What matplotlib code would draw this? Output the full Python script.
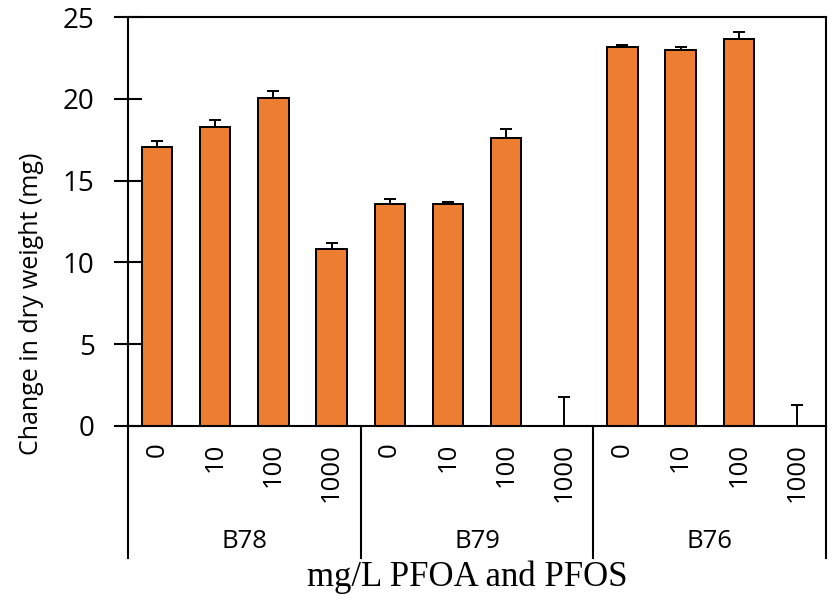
import matplotlib
matplotlib.use("Agg")
from matplotlib import pyplot as plt
import matplotlib.transforms as mtransforms
import numpy as np

# data
groups = ["B78", "B79", "B76"]
doses = ["0", "10", "100", "1000"]
dry_weight = [17.05, 18.3, 20.05, 10.8,
              13.6, 13.55, 17.6, 0.0,
              23.15, 23.0, 23.65, 0.0]
err_up = [0.4, 0.4, 0.45, 0.4,
          0.3, 0.15, 0.55, 1.75,
          0.15, 0.15, 0.45, 1.3]

bar_color = "#ED7D31"
sans = ["Open Sans", "DejaVu Sans"]

fig = plt.figure(figsize=(8.33, 6.0), dpi=100)
ax = fig.add_axes([128 / 833, 1 - 426 / 600, 698 / 833, 409 / 600])

x = np.arange(len(dry_weight))
ax.bar(x, dry_weight, width=0.52, color=bar_color, edgecolor="black", linewidth=1.4, zorder=2)
ax.errorbar(x, dry_weight, yerr=[np.zeros(len(err_up)), err_up], fmt="none",
            ecolor="black", elinewidth=1.4, capsize=4, capthick=1.4, zorder=3)

ax.set_xlim(-0.5, len(dry_weight) - 0.5)
ax.set_ylim(0, 25)
ax.set_yticks([0, 5, 10, 15, 20, 25])

ax.set_xticks(x)
ax.set_xticklabels(doses * len(groups), rotation=90, fontsize=18.5, family=sans)
ax.tick_params(axis="x", length=0, pad=12)
ax.tick_params(axis="y", direction="inout", length=20, width=1.5, pad=14, labelsize=20)
for lab in ax.get_yticklabels():
    lab.set_family(sans)

for sp in ax.spines.values():
    sp.set_linewidth(1.5)

# group separators and group labels under the axis
trans = mtransforms.blended_transform_factory(ax.transData, ax.transAxes)
y_low = -(558 - 426) / 409
for i in range(len(groups) + 1):
    xs = i * len(doses) - 0.5
    ax.plot([xs, xs], [0, y_low], color="black", lw=1.5, transform=trans, clip_on=False)
for i, g in enumerate(groups):
    xc = i * len(doses) + (len(doses) - 1) / 2
    ax.text(xc, -(541 - 426) / 409, g, transform=trans, ha="center", va="center",
            fontsize=18.5, family=sans)

fig.text(32 / 833, 1 - 304 / 600, "Change in dry weight (mg)", rotation=90,
         ha="center", va="center", fontsize=18, family=sans)
fig.text(467 / 833, 1 - 577 / 600, "mg/L PFOA and PFOS", ha="center", va="center",
         fontsize=25, family=["Liberation Serif", "DejaVu Serif"])

fig.savefig("out.png", dpi=100)
